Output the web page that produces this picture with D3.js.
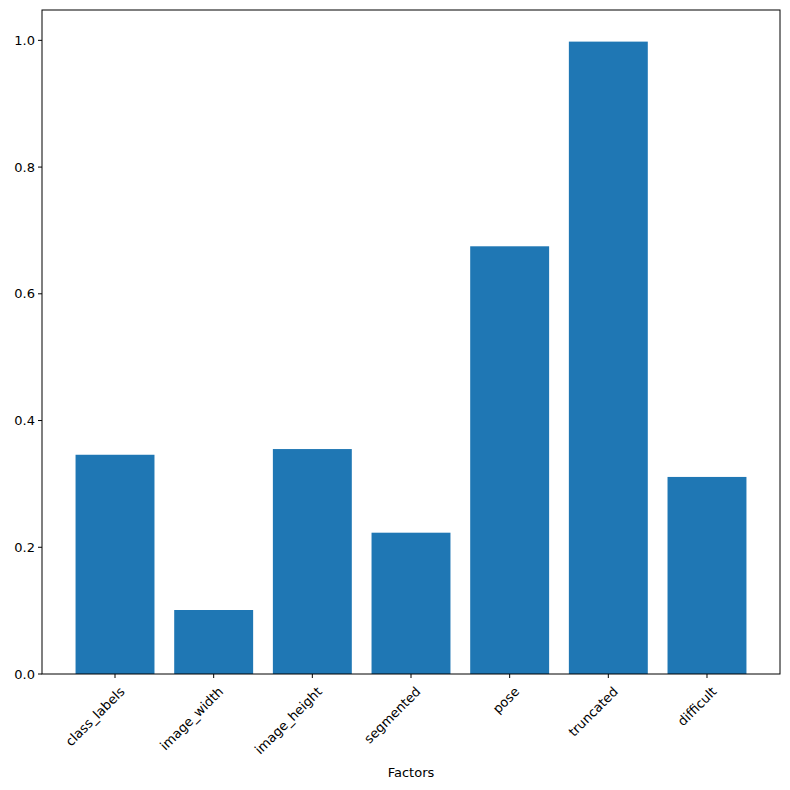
<!DOCTYPE html>
<html><head><meta charset="utf-8">
<script src="https://cdn.jsdelivr.net/npm/d3@7"></script>
<style>body{margin:0;background:#fff}</style></head>
<body><svg id="c" width="790" height="790"></svg>
<script>
const categories = ["class_labels","image_width","image_height","segmented","pose","truncated","difficult"];
const values = [0.346,0.101,0.355,0.223,0.675,0.998,0.311];
const yTicks = [0,0.2,0.4,0.6,0.8,1.0];

const svg = d3.select("#c");
const L=42,R=780,T=10,B=674;
const x = d3.scaleLinear().domain([-0.74,6.74]).range([L,R]);
const y = d3.scaleLinear().domain([0,1.0479]).range([B,T]);
const font = "DejaVu Sans, sans-serif";

svg.selectAll("rect.bar").data(values).enter().append("rect")
  .attr("x",(d,i)=>x(i-0.4)).attr("width",x(0.8)-x(0))
  .attr("y",d=>y(d)).attr("height",d=>B-y(d)).attr("fill","#1f77b4");

svg.append("rect").attr("x",L).attr("y",T).attr("width",R-L).attr("height",B-T)
  .attr("fill","none").attr("stroke","#000").attr("stroke-width",1);

const yg = svg.append("g");
yTicks.forEach(t=>{
  yg.append("line").attr("x1",L-4).attr("x2",L).attr("y1",y(t)).attr("y2",y(t)).attr("stroke","#000");
  yg.append("text").attr("x",L-7).attr("y",y(t)).attr("dy","0.35em").attr("text-anchor","end")
    .attr("font-family",font).attr("font-size",13).text(t.toFixed(1));
});
categories.forEach((c,i)=>{
  svg.append("line").attr("x1",x(i)).attr("x2",x(i)).attr("y1",B).attr("y2",B+4).attr("stroke","#000");
  svg.append("text").attr("transform",`translate(${x(i)+4},${B+12}) rotate(-45)`)
    .attr("text-anchor","end").attr("dy","0.7em").attr("font-family",font).attr("font-size",13).text(c);
});
svg.append("text").attr("x",(L+R)/2).attr("y",777).attr("text-anchor","middle")
  .attr("font-family",font).attr("font-size",13).text("Factors");
</script></body></html>
